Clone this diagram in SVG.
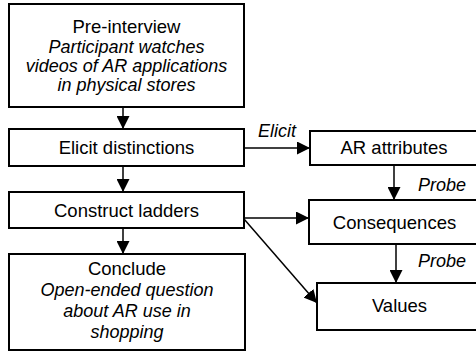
<svg xmlns="http://www.w3.org/2000/svg" width="476" height="352" viewBox="0 0 476 352">
<defs>
<style>
.box{fill:#fff;stroke:#000;stroke-width:2}
.t{font-family:"Liberation Sans",Arial,sans-serif;font-size:18.5px;fill:#000;text-anchor:middle}
.i{font-style:italic;font-size:18px}
.c{stroke:#000;stroke-width:1.5;fill:none}
</style>
<marker id="ah" viewBox="0 0 13 13" refX="13" refY="6.5" markerWidth="13" markerHeight="13" markerUnits="userSpaceOnUse" orient="auto">
<path d="M0,0 L13,6.5 L0,13 Z" fill="#000"/>
</marker>
</defs>
<rect width="476" height="352" fill="#fff"/>
<g id="connectors">
<line class="c" x1="123" y1="107" x2="123" y2="129" marker-end="url(#ah)"/>
<line class="c" x1="123" y1="166" x2="123" y2="192" marker-end="url(#ah)"/>
<line class="c" x1="123" y1="228" x2="123" y2="254" marker-end="url(#ah)"/>
<line class="c" x1="244" y1="148" x2="310" y2="148" marker-end="url(#ah)"/>
<line class="c" x1="244" y1="218" x2="309" y2="218" marker-end="url(#ah)"/>
<line class="c" x1="244" y1="219" x2="317" y2="303" marker-end="url(#ah)"/>
<line class="c" x1="394" y1="165" x2="394" y2="200" marker-end="url(#ah)"/>
<line class="c" x1="396" y1="244" x2="396" y2="283" marker-end="url(#ah)"/>
<text class="t i" x="277" y="137">Elicit</text>
<text class="t i" x="442" y="191">Probe</text>
<text class="t i" x="442" y="267">Probe</text>
</g>
<g id="pre-interview">
<rect class="box" x="9" y="4" width="235" height="103"/>
<text class="t" x="126.5" y="33">Pre-interview</text>
<text class="t i" x="126.5" y="53">Participant watches</text>
<text class="t i" x="126.5" y="72">videos of AR applications</text>
<text class="t i" x="126.5" y="91">in physical stores</text>
</g>
<g id="elicit-distinctions">
<rect class="box" x="9" y="129" width="235" height="37"/>
<text class="t" x="126.5" y="154">Elicit distinctions</text>
</g>
<g id="construct-ladders">
<rect class="box" x="9" y="192" width="235" height="36"/>
<text class="t" x="126.5" y="217">Construct ladders</text>
</g>
<g id="conclude">
<rect class="box" x="9" y="254" width="236" height="96"/>
<text class="t" x="127" y="275">Conclude</text>
<text class="t i" x="127" y="296">Open-ended question</text>
<text class="t i" x="127" y="317">about AR use in</text>
<text class="t i" x="127" y="338">shopping</text>
</g>
<g id="ar-attributes">
<rect class="box" x="310" y="131" width="172" height="34"/>
<text class="t" x="394" y="154">AR attributes</text>
</g>
<g id="consequences">
<rect class="box" x="309" y="200" width="173" height="44"/>
<text class="t" x="394.5" y="229">Consequences</text>
</g>
<g id="values">
<rect class="box" x="317" y="283" width="165" height="47"/>
<text class="t" x="399.5" y="312">Values</text>
</g>
</svg>
